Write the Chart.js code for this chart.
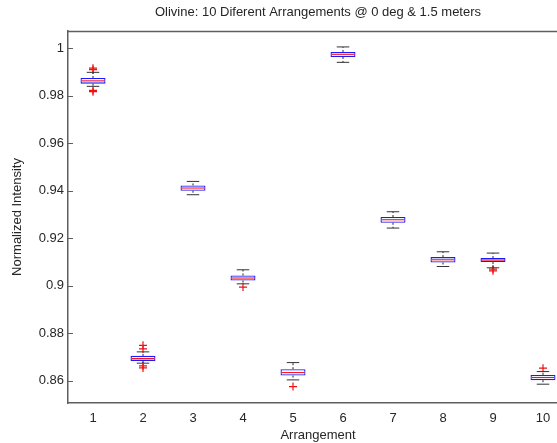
<!DOCTYPE html>
<html>
<head>
<meta charset="utf-8">
<script src="https://cdn.jsdelivr.net/npm/chart.js@4.4.1/dist/chart.umd.min.js"></script>
<style>
  html, body { margin: 0; padding: 0; background: #fff; overflow: hidden; }
  #marco { width: 557px; height: 443px; overflow: hidden; }
</style>
</head>
<body>
<div id="marco"><canvas id="grafico" width="600" height="443"></canvas></div>
<script>
const categorias = ["1", "2", "3", "4", "5", "6", "7", "8", "9", "10"];

const cuartil1 = [0.98505, 0.86842, 0.94000, 0.90223, 0.86223, 0.99629, 0.92653, 0.90981, 0.90998, 0.86030];
const cuartil3 = [0.98745, 0.87053, 0.94223, 0.90434, 0.86493, 0.99840, 0.92893, 0.91208, 0.91166, 0.86253];
const mediana = [0.98623, 0.86939, 0.94114, 0.90328, 0.86349, 0.99739, 0.92779, 0.91095, 0.91082, 0.86139];
const bigoteBajo = [0.98392, 0.86745, 0.93832, 0.90084, 0.86042, 0.99402, 0.92429, 0.90813, 0.90758, 0.85861];
const bigoteAlto = [0.98981, 0.87221, 0.94392, 0.90674, 0.86770, 1.00050, 0.93116, 0.91432, 0.91377, 0.86392];

const atipicosCat = ["1", "1", "1", "1", "2", "2", "2", "2", "4", "5", "9", "9", "10"];
const atipicosVal = [0.99158, 0.99095, 0.98223, 0.98168, 0.87495, 0.87347, 0.86632, 0.86547, 0.89945, 0.85760, 0.90703, 0.90632, 0.86535];

const ticksY = [0.86, 0.88, 0.9, 0.92, 0.94, 0.96, 0.98, 1];
const etiquetasY = ["0.86", "0.88", "0.9", "0.92", "0.94", "0.96", "0.98", "1"];

const fuente = "'Liberation Sans', Arial, sans-serif";
const colorTexto = "#262626";
const colorEje = "#5e5e5e";

// bigotes, medianas, borde superior y marcas hacia dentro
const dibujarCajas = {
  id: "dibujarCajas",
  afterDatasetsDraw(chart) {
    const { ctx, chartArea } = chart;
    const x = chart.scales.x;
    const y = chart.scales.y;
    const barras = chart.getDatasetMeta(0).data;
    ctx.save();

    categorias.forEach((c, i) => {
      const cx = x.getPixelForValue(i);
      const medio = barras[i].width / 2;
      const tapa = medio / 2;

      ctx.strokeStyle = "#222";
      ctx.lineWidth = 1;
      ctx.setLineDash([2, 2]);
      ctx.beginPath();
      ctx.moveTo(cx, y.getPixelForValue(cuartil3[i]));
      ctx.lineTo(cx, y.getPixelForValue(bigoteAlto[i]));
      ctx.moveTo(cx, y.getPixelForValue(cuartil1[i]));
      ctx.lineTo(cx, y.getPixelForValue(bigoteBajo[i]));
      ctx.stroke();
      ctx.setLineDash([]);

      ctx.strokeStyle = "#333";
      ctx.beginPath();
      ctx.moveTo(cx - tapa, y.getPixelForValue(bigoteAlto[i]));
      ctx.lineTo(cx + tapa, y.getPixelForValue(bigoteAlto[i]));
      ctx.moveTo(cx - tapa, y.getPixelForValue(bigoteBajo[i]));
      ctx.lineTo(cx + tapa, y.getPixelForValue(bigoteBajo[i]));
      ctx.stroke();

      ctx.strokeStyle = "#ff0000";
      ctx.beginPath();
      ctx.moveTo(cx - medio + 1, y.getPixelForValue(mediana[i]));
      ctx.lineTo(cx + medio - 1, y.getPixelForValue(mediana[i]));
      ctx.stroke();
    });

    ctx.strokeStyle = colorEje;
    ctx.lineWidth = 1.5;
    ctx.beginPath();
    ctx.moveTo(chartArea.left, chartArea.top + 0.5);
    ctx.lineTo(chartArea.right, chartArea.top + 0.5);
    ctx.stroke();
    ctx.lineWidth = 1;
    ctx.beginPath();
    ticksY.forEach(v => {
      const py = Math.round(y.getPixelForValue(v)) + 0.5;
      ctx.moveTo(chartArea.left, py);
      ctx.lineTo(chartArea.left + 5, py);
    });
    ctx.stroke();
    ctx.restore();
  }
};

const ctx = document.getElementById("grafico").getContext("2d");

const grafico = new Chart(ctx, {
  type: "bar",
  data: {
    labels: categorias,
    datasets: [{
      label: "caja",
      data: categorias.map((c, i) => [cuartil1[i], cuartil3[i]]),
      backgroundColor: "#ffffff",
      borderColor: "#1a1aff",
      borderWidth: 1.3,
      borderSkipped: false,
      barPercentage: 0.5,
      categoryPercentage: 1
    }, {
      type: "scatter",
      label: "atipicos",
      data: atipicosCat.map((c, i) => ({ x: c, y: atipicosVal[i] })),
      pointStyle: "cross",
      radius: 4,
      borderColor: "#ee1111",
      borderWidth: 1.2
    }]
  },
  options: {
    responsive: false,
    animation: false,
    layout: { padding: { left: 0, top: 0, right: 32, bottom: 0 } },
    plugins: {
      legend: { display: false },
      tooltip: { enabled: false },
      title: {
        display: true,
        fullSize: false,
        text: "Olivine: 10 Diferent Arrangements @ 0 deg & 1.5 meters",
        color: colorTexto,
        font: { family: fuente, size: 13, weight: "normal" },
        padding: { top: 5, bottom: 10.4 }
      }
    },
    scales: {
      x: {
        type: "category",
        offset: true,
        afterFit: s => { s.height = 40; },
        grid: { drawOnChartArea: false, drawTicks: false },
        border: { color: colorEje, width: 1.5 },
        ticks: {
          color: colorTexto,
          font: { family: fuente, size: 13 },
          padding: 8,
          autoSkip: false,
          maxRotation: 0
        },
        title: {
          display: true,
          text: "Arrangement",
          color: colorTexto,
          font: { family: fuente, size: 13 },
          padding: { top: 0, bottom: 0 }
        }
      },
      y: {
        min: 0.8507,
        max: 1.0072,
        afterFit: s => { s.width = 68; },
        afterBuildTicks: s => { s.ticks = ticksY.map(v => ({ value: v })); },
        grid: { drawOnChartArea: false, drawTicks: false },
        border: { color: colorEje, width: 1.5 },
        ticks: {
          color: colorTexto,
          font: { family: fuente, size: 13 },
          padding: 4,
          callback: (v) => etiquetasY[ticksY.indexOf(v)]
        },
        title: {
          display: true,
          text: "Normalized Intensity",
          color: colorTexto,
          font: { family: fuente, size: 13 },
          padding: { top: 10, bottom: 0 }
        }
      }
    }
  },
  plugins: [dibujarCajas]
});
</script>
</body>
</html>
